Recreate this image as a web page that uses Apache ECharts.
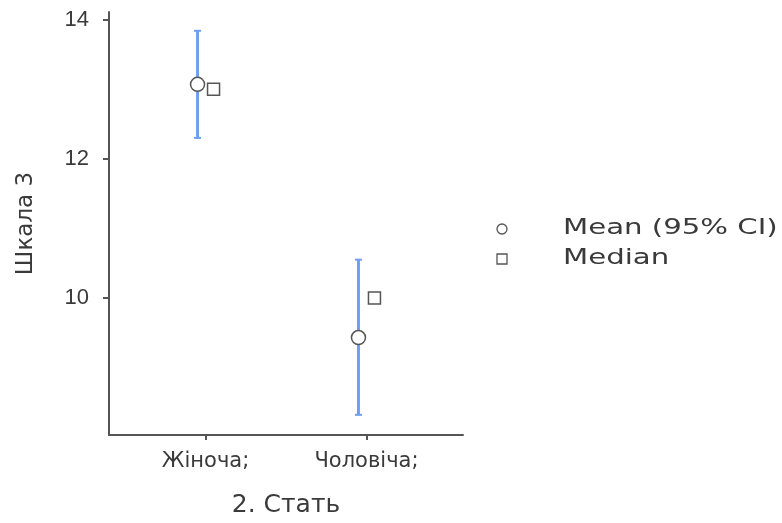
<!DOCTYPE html>
<html>
<head>
<meta charset="utf-8">
<script src="https://cdn.jsdelivr.net/npm/echarts@6/dist/echarts.min.js"></script>
<style>html,body{margin:0;padding:0;background:#fff;overflow:hidden;}#c{width:782px;height:523px;}</style>
</head>
<body>
<div id="c"></div>
<script>
const categories = ['Жіноча;', 'Чоловіча;'];
const categoryPositions = [1, 2];
const meanValues = [13.07, 9.43];
const ciLower = [12.30, 8.32];
const ciUpper = [13.84, 10.55];
const medianValues = [13, 10];
const yTicks = [10, 12, 14];
const legendLabels = ['Mean (95% CI)', 'Median'];

const chart = echarts.init(document.getElementById('c'));
const FONT = "'DejaVu Sans', 'Liberation Sans', Arial, sans-serif";
const AFONT = "'Liberation Sans', Arial, sans-serif";
const AXIS_COLOR = '#555';
const TEXT_COLOR = '#3a3a3a';
const BAR_COLOR = '#6e9ff2';

const ciData = categoryPositions.map((x, i) => [x, ciLower[i], ciUpper[i]]);
const meanData = categoryPositions.map((x, i) => [x, meanValues[i]]);
const medianData = categoryPositions.map((x, i) => [x, medianValues[i]]);

const legendGraphic = {
  type: 'group', x: 497, y: 216,
  children: [
    { type: 'circle', shape: { cx: 5, cy: 13, r: 5 }, style: { fill: '#fff', stroke: AXIS_COLOR, lineWidth: 1.3 } },
    { type: 'text', x: 66, y: 13, scaleX: 1.39, style: { text: legendLabels[0], fontFamily: FONT, fontSize: 21, fill: TEXT_COLOR, verticalAlign: 'middle' } },
    { type: 'rect', shape: { x: 0, y: 38, width: 10, height: 10 }, style: { fill: '#fff', stroke: AXIS_COLOR, lineWidth: 1.3 } },
    { type: 'text', x: 66, y: 43, scaleX: 1.39, style: { text: legendLabels[1], fontFamily: FONT, fontSize: 21, fill: TEXT_COLOR, verticalAlign: 'middle' } }
  ]
};

chart.setOption({
  animation: false,
  backgroundColor: '#fff',
  grid: { left: 109, right: 319, top: 12, bottom: 87, containLabel: false },
  graphic: [legendGraphic],
  xAxis: {
    type: 'value', min: 0.4, max: 2.6,
    name: '2. Стать', nameLocation: 'middle', nameGap: 58,
    nameTextStyle: { fontFamily: FONT, fontSize: 25, color: TEXT_COLOR },
    axisLine: { show: true, lineStyle: { color: AXIS_COLOR, width: 2 } },
    axisTick: { show: true, length: 5, lineStyle: { color: AXIS_COLOR, width: 2 }, customValues: categoryPositions },
    axisLabel: {
      customValues: categoryPositions, margin: 16,
      fontFamily: FONT, fontSize: 21, color: TEXT_COLOR,
      formatter: v => categories[categoryPositions.indexOf(v)] || ''
    },
    splitLine: { show: false }
  },
  yAxis: {
    type: 'value', min: 8.03, max: 14.11,
    name: 'Шкала 3', nameLocation: 'middle', nameGap: 71, nameRotate: 90,
    nameTextStyle: { fontFamily: FONT, fontSize: 23, color: TEXT_COLOR },
    axisLine: { show: true, lineStyle: { color: AXIS_COLOR, width: 2 } },
    axisTick: { show: true, length: 6, lineStyle: { color: AXIS_COLOR, width: 2 }, customValues: yTicks },
    axisLabel: { customValues: yTicks, margin: 20, fontFamily: AFONT, fontSize: 22, color: TEXT_COLOR },
    splitLine: { show: false }
  },
  series: [
    {
      type: 'custom', name: 'CI', data: ciData, z: 1,
      renderItem: (params, api) => {
        const lo = api.coord([api.value(0), api.value(1)]);
        const hi = api.coord([api.value(0), api.value(2)]);
        const x = lo[0] - 8;
        const style = { stroke: BAR_COLOR, lineWidth: 3 };
        return {
          type: 'group',
          children: [
            { type: 'line', shape: { x1: x, y1: lo[1], x2: x, y2: hi[1] }, style },
            { type: 'line', shape: { x1: x - 3.5, y1: lo[1], x2: x + 3.5, y2: lo[1] }, style: { stroke: BAR_COLOR, lineWidth: 2 } },
            { type: 'line', shape: { x1: x - 3.5, y1: hi[1], x2: x + 3.5, y2: hi[1] }, style: { stroke: BAR_COLOR, lineWidth: 2 } }
          ]
        };
      }
    },
    {
      type: 'scatter', name: 'Mean (95% CI)', data: meanData, z: 3,
      symbol: 'circle', symbolSize: 14, symbolOffset: [-8, 0],
      itemStyle: { color: '#fff', borderColor: AXIS_COLOR, borderWidth: 1.5, opacity: 1 }
    },
    {
      type: 'scatter', name: 'Median', data: medianData, z: 3,
      symbol: 'rect', symbolSize: 12, symbolOffset: [8, 0],
      itemStyle: { color: '#fff', borderColor: AXIS_COLOR, borderWidth: 1.5, opacity: 1 }
    }
  ]
});
</script>
</body>
</html>
